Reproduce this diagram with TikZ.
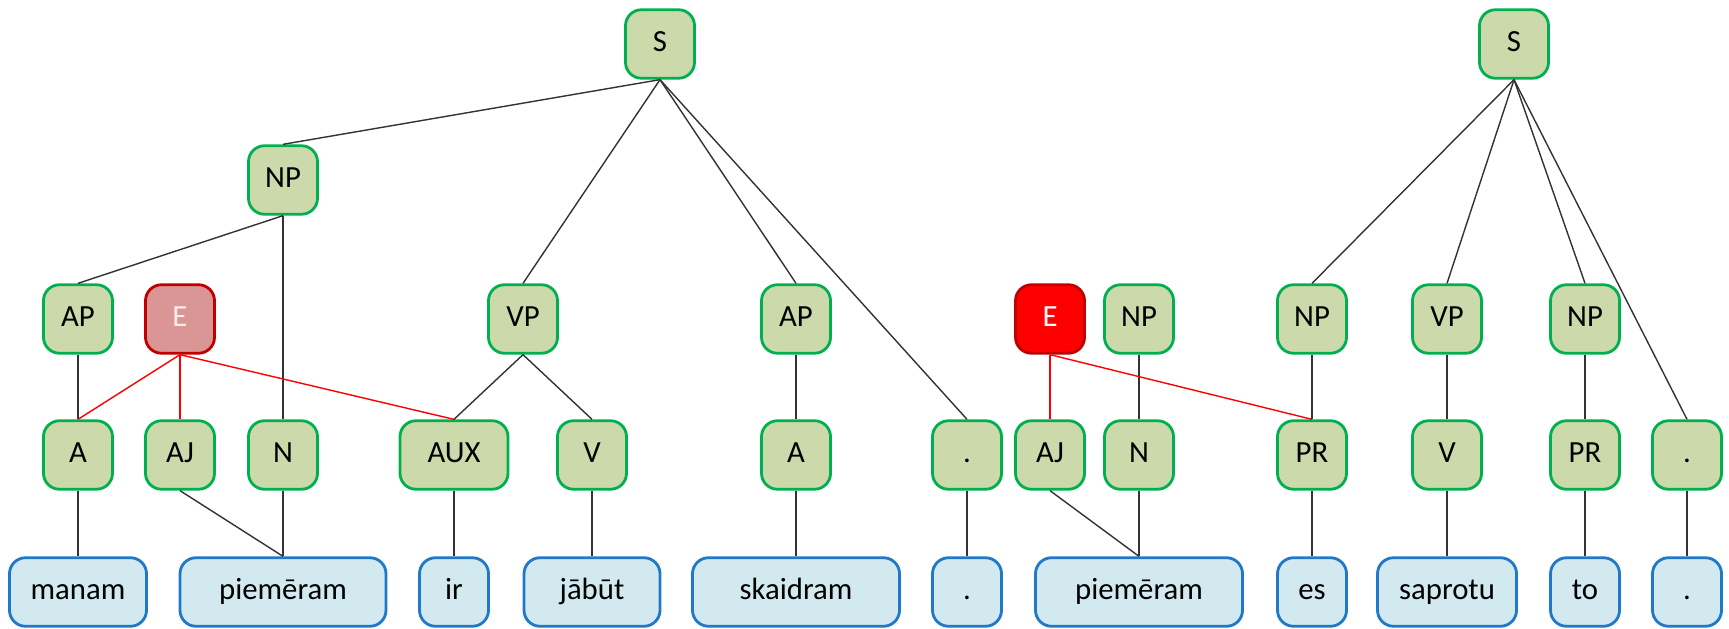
\documentclass[tikz,border=0pt]{standalone}
\usepackage{fontspec}
\setmainfont{Carlito}
\usetikzlibrary{positioning}

\definecolor{catfill}{HTML}{CCDAAB}
\definecolor{catline}{HTML}{00B050}
\definecolor{wordfill}{HTML}{D2E9F0}
\definecolor{wordline}{HTML}{1F78C8}
\definecolor{errline}{HTML}{C00000}
\definecolor{errsoft}{HTML}{D99694}

\begin{document}
\begin{tikzpicture}[
  x=0.2mm, y=-0.2mm,
  cat/.style={draw=catline, fill=catfill, line width=1.6pt, rounded corners=3.2mm,
    minimum width=13.8mm, minimum height=13.7mm, inner sep=1pt,
    font=\fontsize{17.5}{20}\selectfont, execute at begin node=\strut},
  word/.style={cat, draw=wordline, fill=wordfill},
  err/.style={cat, draw=errline},
  link/.style={line width=0.8pt, black!80},
  elink/.style={line width=0.8pt, red}
]
  \useasboundingbox (0,0) rectangle (1729,629);

  % first tree
  \node[cat] (s1)   at (660,44)  {S};
  \node[cat] (np1)  at (283,180) {NP};
  \node[cat] (ap1)  at (78,319)  {AP};
  \node[err, fill=errsoft, text=red!8] (e1) at (180,319) {E};
  \node[cat] (vp1)  at (523,319) {VP};
  \node[cat] (ap2)  at (796,319) {AP};

  \node[cat] (a1)   at (78,455)  {A};
  \node[cat] (aj1)  at (180,455) {AJ};
  \node[cat] (n1)   at (283,455) {N};
  \node[cat, minimum width=21.6mm] (aux) at (454,455) {AUX};
  \node[cat] (v1)   at (592,455) {V};
  \node[cat] (a2)   at (796,455) {A};
  \node[cat] (pt1)  at (967,455) {.};

  \node[word, minimum width=27.4mm] (manam) at (78,592)  {manam};
  \node[word, minimum width=41.2mm] (piem1) at (283,592) {piemēram};
  \node[word] (ir) at (454,592) {ir};
  \node[word, minimum width=27.2mm] (jabut) at (592,592) {jābūt};
  \node[word, minimum width=41.4mm] (skaid) at (796,592) {skaidram};
  \node[word] (dot1) at (967,592) {.};

  % second fragment
  \node[err, fill=red, text=white] (e2) at (1050,319) {E};
  \node[cat] (np2)  at (1139,319) {NP};
  \node[cat] (aj2)  at (1050,455) {AJ};
  \node[cat] (n2)   at (1139,455) {N};
  \node[word, minimum width=41.4mm] (piem2) at (1139,592) {piemēram};

  % second tree
  \node[cat] (s2)   at (1514,44)  {S};
  \node[cat] (np3)  at (1312,319) {NP};
  \node[cat] (vp2)  at (1447,319) {VP};
  \node[cat] (np4)  at (1585,319) {NP};
  \node[cat] (pr1)  at (1312,455) {PR};
  \node[cat] (v2)   at (1447,455) {V};
  \node[cat] (pr2)  at (1585,455) {PR};
  \node[cat] (pt2)  at (1687,455) {.};
  \node[word] (es) at (1312,592) {es};
  \node[word, minimum width=27.8mm] (sapr) at (1447,592) {saprotu};
  \node[word] (to) at (1585,592) {to};
  \node[word] (dot2) at (1687,592) {.};

  \draw[link] (s1.south) -- (np1.north);
  \draw[link] (s1.south) -- (vp1.north);
  \draw[link] (s1.south) -- (ap2.north);
  \draw[link] (s1.south) -- (pt1.north);
  \draw[link] (np1.south) -- (ap1.north);
  \draw[link] (np1.south) -- (n1.north);
  \draw[link] (ap1.south) -- (a1.north);
  \draw[link] (vp1.south) -- (aux.north);
  \draw[link] (vp1.south) -- (v1.north);
  \draw[link] (ap2.south) -- (a2.north);
  \draw[elink] (e1.south) -- (a1.north);
  \draw[elink] (e1.south) -- (aj1.north);
  \draw[elink] (e1.south) -- (aux.north);

  \draw[link] (a1.south) -- (manam.north);
  \draw[link] (aj1.south) -- (piem1.north);
  \draw[link] (n1.south) -- (piem1.north);
  \draw[link] (aux.south) -- (ir.north);
  \draw[link] (v1.south) -- (jabut.north);
  \draw[link] (a2.south) -- (skaid.north);
  \draw[link] (pt1.south) -- (dot1.north);

  \draw[link] (np2.south) -- (n2.north);
  \draw[elink] (e2.south) -- (aj2.north);
  \draw[elink] (e2.south) -- (pr1.north);
  \draw[link] (aj2.south) -- (piem2.north);
  \draw[link] (n2.south) -- (piem2.north);

  \draw[link] (s2.south) -- (np3.north);
  \draw[link] (s2.south) -- (vp2.north);
  \draw[link] (s2.south) -- (np4.north);
  \draw[link] (s2.south) -- (pt2.north);
  \draw[link] (np3.south) -- (pr1.north);
  \draw[link] (vp2.south) -- (v2.north);
  \draw[link] (np4.south) -- (pr2.north);
  \draw[link] (pr1.south) -- (es.north);
  \draw[link] (v2.south) -- (sapr.north);
  \draw[link] (pr2.south) -- (to.north);
  \draw[link] (pt2.south) -- (dot2.north);
\end{tikzpicture}
\end{document}
